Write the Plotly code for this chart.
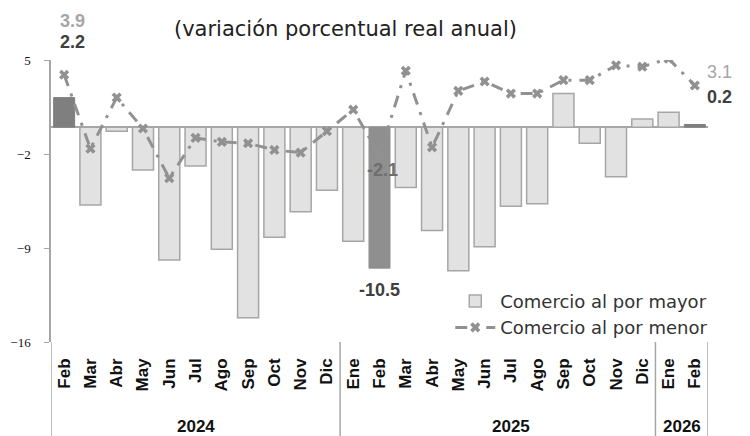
import plotly.graph_objects as go

months = ["Feb", "Mar", "Abr", "May", "Jun", "Jul", "Ago", "Sep", "Oct", "Nov", "Dic",
          "Ene", "Feb", "Mar", "Abr", "May", "Jun", "Jul", "Ago", "Sep", "Oct", "Nov", "Dic",
          "Ene", "Feb"]
years = ["2024", "2025", "2026"]
mayor = [2.2, -5.8, -0.3, -3.2, -9.9, -2.9, -9.1, -14.2, -8.2, -6.3, -4.7,
         -8.5, -10.5, -4.5, -7.7, -10.7, -8.9, -5.9, -5.7, 2.5, -1.2, -3.7, 0.6,
         1.1, 0.2]
menor = [3.9, -1.6, 2.2, -0.1, -3.8, -0.8, -1.1, -1.2, -1.7, -1.9, -0.3,
         1.3, -2.1, 4.2, -1.5, 2.7, 3.4, 2.5, 2.5, 3.5, 3.5, 4.6, 4.5,
         5.1, 3.1]
highlight_idx = [0, 12, 24]

x = list(range(len(months)))
light_y = [None if i in highlight_idx else v for i, v in enumerate(mayor)]
dark_y = [v if i in highlight_idx else None for i, v in enumerate(mayor)]
dark_colors = ["#8f8f8f" if i == 12 else "#7f7f7f" for i in x]

fig = go.Figure()
fig.add_trace(go.Bar(
    x=x, y=light_y, name="Comercio al por mayor",
    marker=dict(color="#e2e2e2", line=dict(color="#a6a6a6", width=1.5)),
    width=0.8,
))
fig.add_trace(go.Bar(
    x=x, y=dark_y, name="destacado", showlegend=False,
    marker=dict(color=dark_colors, line=dict(color=dark_colors, width=1)),
    width=0.8,
))
fig.add_trace(go.Scatter(
    x=x, y=menor, name="Comercio al por menor", mode="lines+markers",
    line=dict(color="#919191", width=3, dash="12px,8px,3px,8px"),
    marker=dict(symbol="x", size=9, color="#919191"),
))

num_font = "Liberation Sans"
ann = []
ann.append(dict(x=0.3, y=1.138, xref="x", yref="paper", text="<b>3.9</b>", yanchor="middle",
                showarrow=False, font=dict(family=num_font, size=18, color="#a6a6a6")))
ann.append(dict(x=0.3, y=1.064, xref="x", yref="paper", text="<b>2.2</b>", yanchor="middle",
                showarrow=False, font=dict(family=num_font, size=18, color="#404040")))
ann.append(dict(x=12.1, y=-3.2, xref="x", yref="y", text="<b>-2.1</b>", yanchor="middle",
                showarrow=False, font=dict(family=num_font, size=18, color="#6e6e6e")))
ann.append(dict(x=12, y=-12.1, xref="x", yref="y", text="<b>-10.5</b>", yanchor="middle",
                showarrow=False, font=dict(family=num_font, size=18, color="#404040")))
ann.append(dict(x=1.017, y=0.957, xref="paper", yref="paper", text="3.1",
                xanchor="center", yanchor="middle",
                showarrow=False, font=dict(family=num_font, size=18, color="#a6a6a6")))
ann.append(dict(x=1.017, y=0.869, xref="paper", yref="paper", text="<b>0.2</b>",
                xanchor="center", yanchor="middle",
                showarrow=False, font=dict(family=num_font, size=18, color="#404040")))
ann.append(dict(x=0.449, y=1.11, xref="paper", yref="paper", xanchor="center", yanchor="middle",
                text="(variación porcentual real anual)", showarrow=False,
                font=dict(family="DejaVu Sans", size=21, color="#222222")))
# year labels
year_centers = [5, 17, 23.5]
for yc, yl in zip(year_centers, years):
    ann.append(dict(x=yc, y=-0.3, xref="x", yref="paper", text="<b>" + yl + "</b>",
                    yanchor="middle", showarrow=False,
                    font=dict(family=num_font, size=17, color="#111111")))

shapes = []
for sx in [-0.5, 10.5, 22.5, 24.5]:
    shapes.append(dict(type="line", xref="x", yref="paper", x0=sx, x1=sx, y0=0, y1=-0.34,
                       line=dict(color="#a6a6a6", width=1.5)))

fig.update_layout(
    width=742, height=428,
    margin=dict(l=43, r=41.5, t=52, b=94),
    paper_bgcolor="white", plot_bgcolor="white",
    showlegend=True, barmode="overlay",
    legend=dict(x=1.008, y=0.21, xanchor="right", yanchor="top",
                font=dict(family="DejaVu Sans", size=18, color="#333333"),
                bgcolor="rgba(0,0,0,0)", itemwidth=40, tracegroupgap=0),
    annotations=ann, shapes=shapes,
)
fig.update_xaxes(
    range=[-0.5, 24.5], tickmode="array", tickvals=x,
    ticktext=["<b>" + m + "</b>" for m in months],
    tickangle=-90, showgrid=False, showline=False, zeroline=False, ticks="",
    ticklabelstandoff=12, automargin=False,
    tickfont=dict(family=num_font, size=17, color="#111111"),
)
fig.update_yaxes(
    range=[-16, 5], tickmode="array", tickvals=[5, -2, -9, -16],
    showgrid=False, showline=True, linecolor="#a6a6a6", linewidth=1.5,
    ticks="outside", ticklen=5, tickcolor="#a6a6a6", ticklabelstandoff=11,
    zeroline=True, zerolinecolor="#a6a6a6", zerolinewidth=2, automargin=False,
    tickfont=dict(family="Liberation Serif", size=13, color="#111111"),
)

fig.write_html("out.html")
